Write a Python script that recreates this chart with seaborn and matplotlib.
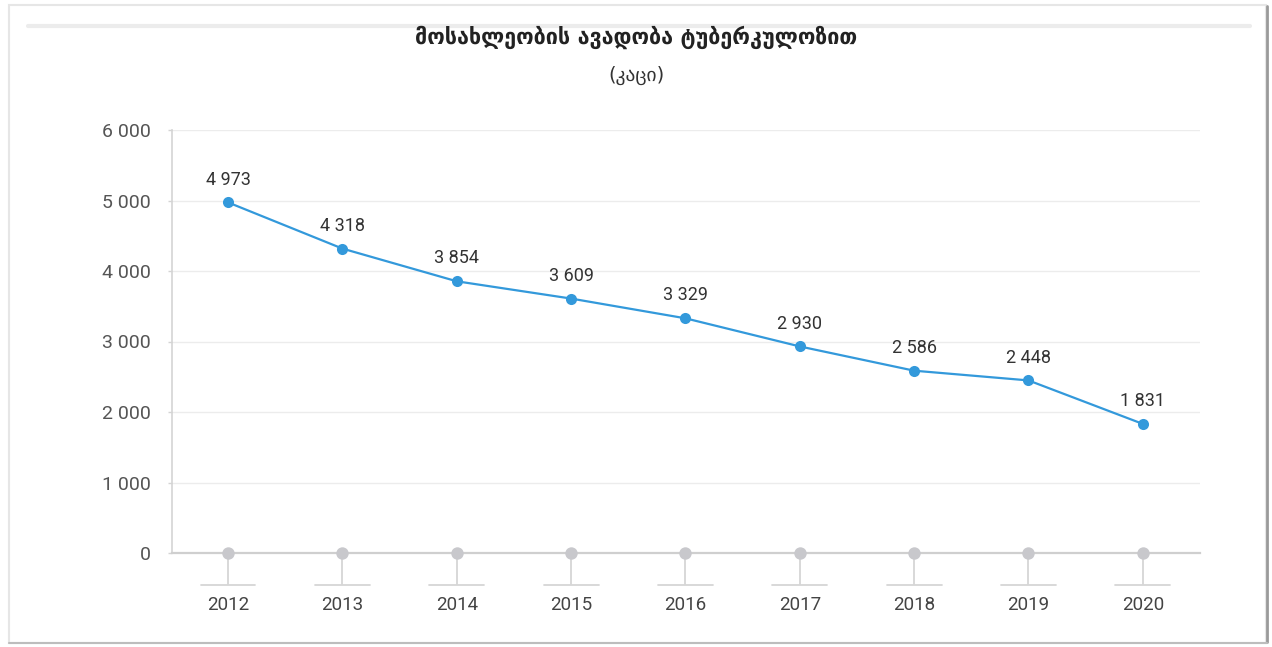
import numpy as np
import pandas as pd
import matplotlib
matplotlib.use("Agg")
import matplotlib.pyplot as plt
import seaborn as sns
from matplotlib.patches import Rectangle
from matplotlib.lines import Line2D

years = ["2012", "2013", "2014", "2015", "2016", "2017", "2018", "2019", "2020"]
cases = [4973, 4318, 3854, 3609, 3329, 2930, 2586, 2448, 1831]
y_ticks = [0, 1000, 2000, 3000, 4000, 5000, 6000]
title = "მოსახლეობის ავადობა ტუბერკულოზით"
subtitle = "(კაცი)"

sns.set_theme(style="white")
plt.rcParams['font.family'] = ['Roboto', 'DejaVu Sans']

df = pd.DataFrame({"idx": np.arange(len(years)), "cases": cases})

fig = plt.figure(figsize=(12.72, 6.47), dpi=100)
fig.patch.set_facecolor("white")
ax = fig.add_axes([172/1272, 1-553/647, (1200-172)/1272, (553-130)/647])

blue = "#3399db"
sns.lineplot(data=df, x="idx", y="cases", ax=ax, color=blue, linewidth=1.6,
             marker="o", markersize=8, markeredgewidth=0, zorder=5)

ax.set_xlim(-0.49, 8.5)
ax.set_ylim(0, 6000)
ax.set_yticks(y_ticks)
ax.set_yticklabels([f"{v:,}".replace(",", " ") for v in y_ticks])
ax.set_xticks(df["idx"])
ax.set_xticklabels(years)
ax.set_xlabel("")
ax.set_ylabel("")

for s in ["top", "right"]:
    ax.spines[s].set_visible(False)
ax.spines["left"].set_color("#d4d4d4")
ax.spines["left"].set_linewidth(1.2)
ax.spines["bottom"].set_color("#cfcfcf")
ax.spines["bottom"].set_linewidth(1.6)
ax.yaxis.grid(True, color="#ececec", linewidth=1)
ax.set_axisbelow(True)

ax.tick_params(axis="y", length=3, width=1, color="#d4d4d4", pad=12,
               labelsize=14, labelcolor="#555555", left=True)
ax.tick_params(axis="x", length=23, width=1.3, color="#d6d6d6", pad=8,
               labelsize=13.5, labelcolor="#444444", bottom=True)

# gray dots at zero and horizontal bars under each tick
trans = ax.get_xaxis_transform()
ax.scatter(df["idx"], np.zeros(len(years)), s=80, color="#c8c8cc",
           zorder=4, clip_on=False, linewidths=0)
for i in df["idx"]:
    ax.add_line(Line2D([i-0.24, i+0.24], [-0.0757, -0.0757], transform=trans,
                       color="#d6d6d6", linewidth=1.3, clip_on=False))

for i, v in zip(df["idx"], cases):
    ax.annotate(f"{v:,}".replace(",", " "), (i, v), xytext=(0, 10),
                textcoords="offset points", ha="center", va="bottom",
                fontsize=13, color="#333333")

fig.text(0.5, 1-37/647, title, ha="center", va="center",
         fontsize=15.5, fontweight="bold", color="#222222",
         family=['DejaVu Sans'])
fig.text(0.5, 1-75/647, subtitle, ha="center", va="center",
         fontsize=14, color="#333333", family=['DejaVu Sans'])

# outer frame with shadow-like edges
fig.add_artist(Rectangle((9/1272, 4/647), (1266-9)/1272, (642-4)/647,
                         transform=fig.transFigure, fill=False,
                         edgecolor="#e6e6e6", linewidth=1.5))
fig.add_artist(Line2D([1267/1272, 1267/1272], [5/647, 641/647],
                      transform=fig.transFigure, color="#9a9a9a", linewidth=2))
fig.add_artist(Line2D([9/1272, 1267/1272], [4/647, 4/647],
                      transform=fig.transFigure, color="#bdbdbd", linewidth=1.5))
fig.add_artist(Line2D([28/1272, 1250/1272], [1-26/647, 1-26/647],
                      transform=fig.transFigure, color="#ececec", linewidth=3))

fig.savefig("out.png", dpi=100, facecolor="white")
